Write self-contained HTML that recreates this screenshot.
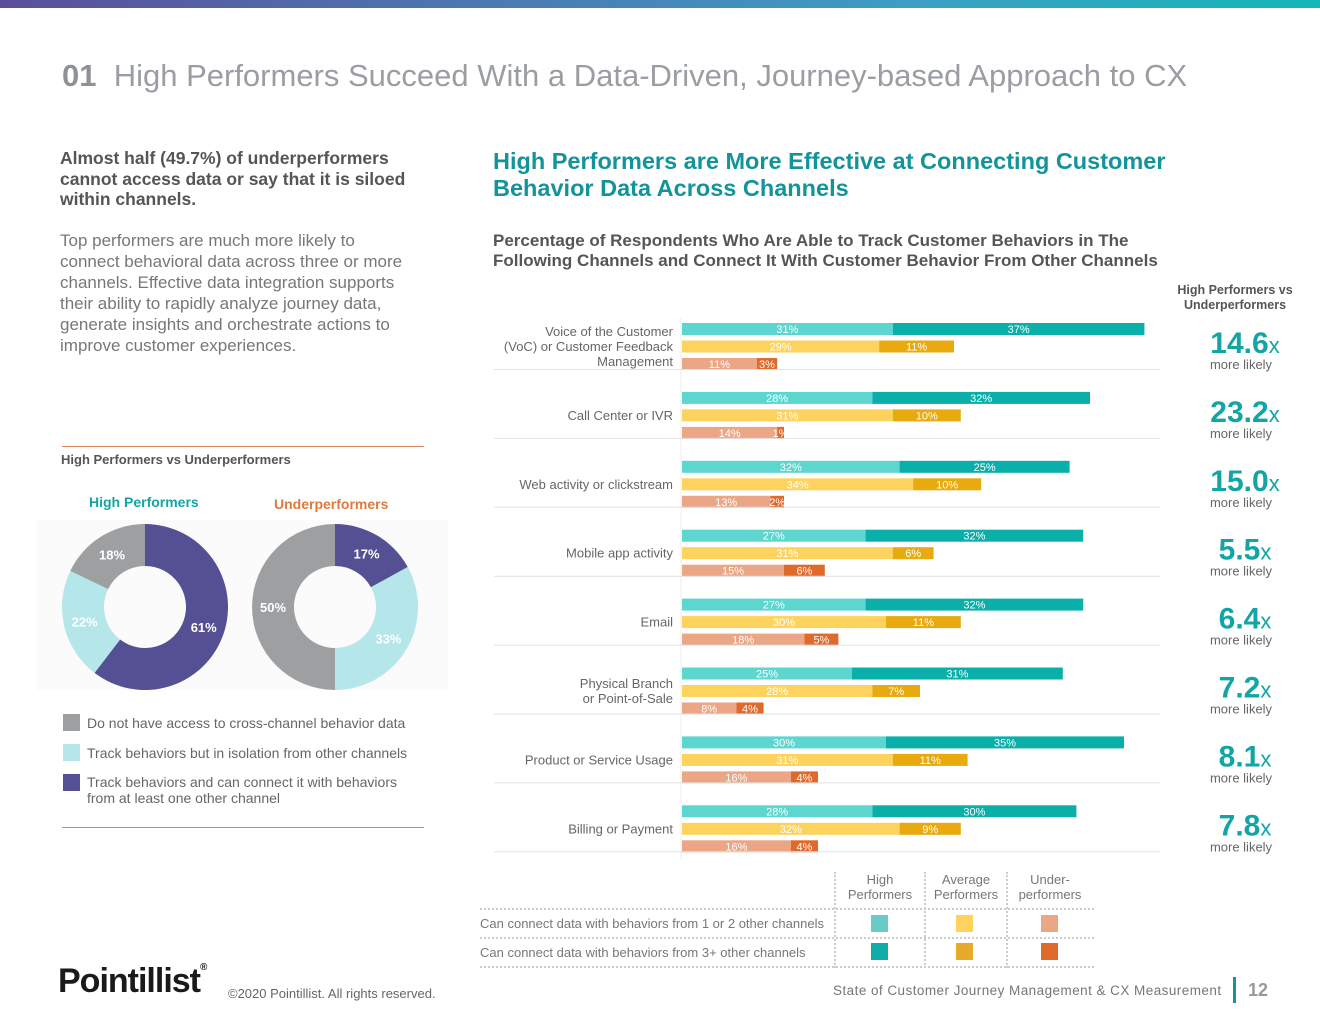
<!DOCTYPE html>
<html><head><meta charset="utf-8">
<style>
body{margin:0;width:1320px;height:1020px;position:relative;background:#fff;font-family:"Liberation Sans",sans-serif;overflow:hidden}
.a{position:absolute;margin:0}
</style></head><body>
<div class="a" style="left:0;top:0;width:1320px;height:8px;background:linear-gradient(90deg,#5b4f9a,#3d9fc4 70%,#13b5b8)"></div>
<div class="a" style="left:62px;top:58px;font-size:31px;color:#9a9ea3;white-space:nowrap"><b style="color:#8e9297">01</b>&nbsp; High Performers Succeed With a Data-Driven, Journey-based Approach to CX</div>
<div class="a" style="left:60px;top:148px;width:360px;font-size:17.5px;font-weight:bold;color:#555;line-height:20.5px">Almost half (49.7%) of underperformers cannot access data or say that it is siloed within channels.</div>
<div class="a" style="left:60px;top:230px;width:352px;font-size:17px;color:#777;line-height:21px">Top performers are much more likely to connect behavioral data across three or more channels. Effective data integration supports their ability to rapidly analyze journey data, generate insights and orchestrate actions to improve customer experiences.</div>
<div class="a" style="left:62px;top:446px;width:362px;height:1px;background:#d98b5f"></div>
<div class="a" style="left:61px;top:452px;font-size:13px;font-weight:bold;color:#555">High Performers vs Underperformers</div>
<div class="a" style="left:89px;top:494px;font-size:14px;font-weight:bold;color:#13a5a5">High Performers</div>
<div class="a" style="left:274px;top:496px;font-size:14px;font-weight:bold;color:#e07a3c">Underperformers</div>
<div class="a" style="left:63px;top:714px;font-size:14px;color:#666;line-height:16px">
<div style="position:absolute;top:0;left:0;width:17px;height:17px;background:#9d9fa1"></div><div style="position:absolute;top:1px;left:24px;white-space:nowrap">Do not have access to cross-channel behavior data</div>
<div style="position:absolute;top:30px;left:0;width:17px;height:17px;background:#b5e6ea"></div><div style="position:absolute;top:31px;left:24px;white-space:nowrap">Track behaviors but in isolation from other channels</div>
<div style="position:absolute;top:60px;left:0;width:17px;height:17px;background:#554f93"></div><div style="position:absolute;top:60px;left:24px;white-space:nowrap">Track behaviors and can connect it with behaviors<br>from at least one other channel</div>
</div>
<div class="a" style="left:62px;top:827px;width:362px;height:1px;background:#d98b5f"></div>
<div class="a" style="left:493px;top:148px;font-size:23.5px;font-weight:bold;color:#13939a;line-height:27px">High Performers are More Effective at Connecting Customer<br>Behavior Data Across Channels</div>
<div class="a" style="left:493px;top:231px;font-size:17px;font-weight:bold;color:#555;line-height:20px">Percentage of Respondents Who Are Able to Track Customer Behaviors in The<br>Following Channels and Connect It With Customer Behavior From Other Channels</div>
<div class="a" style="left:1170px;top:283px;width:130px;text-align:center;font-size:12.5px;font-weight:bold;color:#555;line-height:15px;z-index:2">High Performers vs<br>Underperformers</div>
<div class="a" style="left:478px;top:872px;font-size:13px;color:#777">
<div style="position:absolute;left:356px;top:0;width:3px;height:96px;border-left:2px dotted #ccc"></div>
<div style="position:absolute;left:446px;top:0;width:3px;height:96px;border-left:2px dotted #ccc"></div>
<div style="position:absolute;left:528px;top:0;width:3px;height:96px;border-left:2px dotted #ccc"></div>
<div style="position:absolute;left:358px;top:0;width:88px;text-align:center;line-height:15px">High<br>Performers</div>
<div style="position:absolute;left:448px;top:0;width:80px;text-align:center;line-height:15px">Average<br>Performers</div>
<div style="position:absolute;left:530px;top:0;width:84px;text-align:center;line-height:15px">Under-<br>performers</div>
<div style="position:absolute;left:2px;top:36px;width:614px;border-top:2px dotted #ccc"></div>
<div style="position:absolute;left:2px;top:65px;width:614px;border-top:2px dotted #ccc"></div>
<div style="position:absolute;left:2px;top:94px;width:614px;border-top:2px dotted #ccc"></div>
<div style="position:absolute;left:2px;top:44px;white-space:nowrap">Can connect data with behaviors from 1 or 2 other channels</div>
<div style="position:absolute;left:2px;top:73px;white-space:nowrap">Can connect data with behaviors from 3+ other channels</div>
<div style="position:absolute;left:393px;top:43px;width:17px;height:17px;background:#67cbc8"></div>
<div style="position:absolute;left:478px;top:43px;width:17px;height:17px;background:#fdd35d"></div>
<div style="position:absolute;left:563px;top:43px;width:17px;height:17px;background:#eaa685"></div>
<div style="position:absolute;left:393px;top:71px;width:17px;height:17px;background:#0fada8"></div>
<div style="position:absolute;left:478px;top:71px;width:17px;height:17px;background:#e8aa2b"></div>
<div style="position:absolute;left:563px;top:71px;width:17px;height:17px;background:#e06a2c"></div>
</div>
<div class="a" style="left:58px;top:962px;font-size:34px;font-weight:bold;color:#1a1a1a;letter-spacing:-1px">Pointillist<span style="font-size:10px;vertical-align:top">®</span></div>
<div class="a" style="left:228px;top:986px;font-size:13px;color:#666">©2020 Pointillist. All rights reserved.</div>
<div class="a" style="left:833px;top:983px;font-size:13.5px;color:#777;letter-spacing:0.45px">State of Customer Journey Management &amp; CX Measurement</div>
<div class="a" style="left:1233px;top:977px;width:3px;height:26px;background:#13939a"></div>
<div class="a" style="left:1248px;top:980px;font-size:18px;font-weight:bold;color:#999">12</div>

<svg id="chart" class="a" style="left:0;top:0" width="1320" height="1020"></svg>
<script>
const categories=["Voice of the Customer|(VoC) or Customer Feedback|Management","Call Center or IVR","Web activity or clickstream","Mobile app activity","Email","Physical Branch|or Point-of-Sale","Product or Service Usage","Billing or Payment"];
const high12=[31,28,32,27,27,25,30,28];
const high3=[37,32,25,32,32,31,35,30];
const avg12=[29,31,34,31,30,28,31,32];
const avg3=[11,10,10,6,11,7,11,9];
const under12=[11,14,13,15,18,8,16,16];
const under3=[3,1,2,6,5,4,4,4];
const multipliers=["14.6","23.2","15.0","5.5","6.4","7.2","8.1","7.8"];
const donutHigh=[61,22,18];
const donutUnder=[17,33,50];

const NS="http://www.w3.org/2000/svg";
const svg=document.getElementById('chart');
function mk(t,a,p){const e=document.createElementNS(NS,t);for(const k in a)e.setAttribute(k,a[k]);(p||svg).appendChild(e);return e;}
const x0=682, ppp=6.8;
const xs=v=>v*ppp;
const gy=i=>323+i*68.9;
mk('line',{x1:681,y1:318,x2:681,y2:860,stroke:'#eee'});
const rows=[[high12,high3,'#5dd6d0','#0aafa9'],[avg12,avg3,'#fdd35d','#e8aa0e'],[under12,under3,'#eaa685','#e06a2c']];
categories.forEach((c,i)=>{
  const y=gy(i);
  rows.forEach((r,j)=>{
    const by=y+j*17.5, a=r[0][i], b=r[1][i];
    const r1=mk('rect',{x:x0,y:by,width:xs(a),height:12,fill:r[2]});
    
    
    const r2=mk('rect',{x:x0+xs(a),y:by,width:xs(b),height:12,fill:r[3]});
    
    
    const t1=mk('text',{x:x0+xs(a)/2,y:by+10,'text-anchor':'middle','font-size':11,fill:'#fff'});t1.textContent=a+'%';
    
    
    const t2=mk('text',{x:x0+xs(a)+xs(b)/2,y:by+10,'text-anchor':'middle','font-size':11,fill:'#fff'});t2.textContent=b+'%';
    
    
  });
  mk('line',{x1:494,y1:y+46.5,x2:1160,y2:y+46.5,stroke:'#e2e2e2'});
  const lines=c.split('|');
  const cy=y+23-(lines.length-1)*7.5;
  lines.forEach((l,k)=>{
    const t=mk('text',{x:673,y:cy+5+k*15,'text-anchor':'end','font-size':13,fill:'#666'});t.textContent=l;
    
    
  });
  const m=mk('text',{x:1245,y:y+30,'text-anchor':'middle','font-size':30,'font-weight':'bold',fill:'#13a5a5'});
  m.textContent=multipliers[i];
  const tx=mk('tspan',{'font-size':22,'font-weight':'normal'},m);tx.textContent='x';
  
  
  const ml=mk('text',{x:1241,y:y+46,'text-anchor':'middle','font-size':13,fill:'#666'});ml.textContent='more likely';
  
  
});
// donuts
mk('rect',{x:36,y:520,width:412,height:170,fill:'#fbfbfb'});
function donut(cx,cy,vals,cols,name){
  let ang=0;const R=83,r=41;
  const tot=vals.reduce((s,v)=>s+v,0);
  vals.forEach((v,i)=>{
    const a0=ang/tot*2*Math.PI, a1=(ang+v)/tot*2*Math.PI; ang+=v;
    const p=(a,rad)=>[cx+rad*Math.sin(a),cy-rad*Math.cos(a)];
    const [x1,y1]=p(a0,R),[x2,y2]=p(a1,R),[x3,y3]=p(a1,r),[x4,y4]=p(a0,r);
    const lg=(a1-a0)>Math.PI?1:0;
    const s=mk('path',{d:`M${x1},${y1}A${R},${R} 0 ${lg} 1 ${x2},${y2}L${x3},${y3}A${r},${r} 0 ${lg} 0 ${x4},${y4}Z`,fill:cols[i]});
    
    
    const am=(a0+a1)/2, [tx,ty]=p(am,62);
    const t=mk('text',{x:tx,y:ty+5,'text-anchor':'middle','font-size':13,'font-weight':'bold',fill:'#fff'});t.textContent=v+'%';
    
    
  });
}
donut(145,607,donutHigh,['#554f93','#b5e6ea','#9d9fa1'],'donut-high');
donut(335,607,donutUnder,['#554f93','#b5e6ea','#9d9fa1'],'donut-under');
</script>
</body></html>
